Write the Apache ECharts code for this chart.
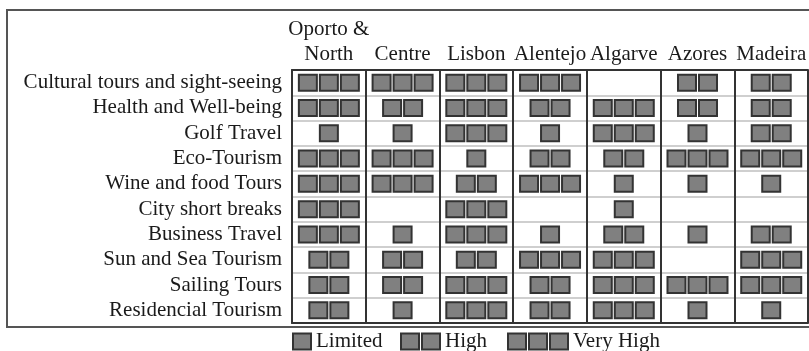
<!DOCTYPE html>
<html>
<head>
<meta charset="utf-8">
<script src="https://cdn.jsdelivr.net/npm/echarts@6/dist/echarts.min.js"></script>
<style>html,body{margin:0;padding:0;background:#fff}#chart{width:809px;height:351px}</style>
</head>
<body>
<div id="chart"></div>
<script>
// Regions (columns)
const regions = ['Oporto &\nNorth', 'Centre', 'Lisbon', 'Alentejo', 'Algarve', 'Azores', 'Madeira'];
// Tourism products (rows, top to bottom)
const products = [
  'Cultural tours and sight-seeing',
  'Health and Well-being',
  'Golf Travel',
  'Eco-Tourism',
  'Wine and food Tours',
  'City short breaks',
  'Business Travel',
  'Sun and Sea Tourism',
  'Sailing Tours',
  'Residencial Tourism'
];
// Level per region (0 = none, 1 = Limited, 2 = High, 3 = Very High), in product order
const oportoNorth = [3, 3, 1, 3, 3, 3, 3, 2, 2, 2];
const centre      = [3, 2, 1, 3, 3, 0, 1, 2, 2, 1];
const lisbon      = [3, 3, 3, 1, 2, 3, 3, 2, 3, 3];
const alentejo    = [3, 2, 1, 2, 3, 0, 1, 3, 2, 2];
const algarve     = [0, 3, 3, 2, 1, 1, 2, 3, 3, 3];
const azores      = [2, 2, 1, 3, 1, 0, 1, 0, 3, 1];
const madeira     = [2, 2, 2, 3, 1, 0, 2, 3, 3, 1];
const levelNames = ['Limited', 'High', 'Very High'];

const columns = [oportoNorth, centre, lisbon, alentejo, algarve, azores, madeira];

const FONT = "'Liberation Serif', 'Times New Roman', serif";
const BOX_W = 18, BOX_H = 16, PITCH = 21;

function dataForLevel(level) {
  const out = [];
  columns.forEach((col, ci) => {
    col.forEach((v, ri) => { if (v === level) out.push([ci, ri, v]); });
  });
  return out;
}

function renderItem(params, api) {
  const n = api.value(2);
  const c = api.coord([api.value(0), api.value(1)]);
  const children = [];
  const style = api.style();
  for (let i = 0; i < n; i++) {
    const cx = c[0] + (i - (n - 1) / 2) * PITCH;
    children.push({
      type: 'rect',
      shape: { x: cx - BOX_W / 2, y: c[1] - BOX_H / 2, width: BOX_W, height: BOX_H },
      style: { fill: '#808080', stroke: '#333', lineWidth: 2 }
    });
  }
  return { type: 'group', children };
}

function squaresPath(n) {
  let p = 'path://';
  for (let i = 0; i < n; i++) {
    p += 'M' + (i * 21) + ',0H' + (i * 21 + 18) + 'V16H' + (i * 21) + 'Z ';
  }
  return p.trim();
}

const legendLeft = [292, 400, 507];
const legendWidth = [18, 39, 60];

const chart = echarts.init(document.getElementById('chart'), null, { renderer: 'canvas' });
chart.setOption({
  animation: false,
  backgroundColor: '#fff',
  textStyle: { fontFamily: FONT },
  graphic: [{
    type: 'rect', z: -1,
    shape: { x: 7, y: 10, width: 830, height: 317 },
    style: { fill: 'none', stroke: '#555', lineWidth: 2 }
  }],
  grid: { left: 292, top: 70, width: 519, height: 253, containLabel: false },
  xAxis: [{
    type: 'category', position: 'top', data: regions,
    axisLine: { show: true, lineStyle: { color: '#333', width: 2 } },
    axisTick: { show: false },
    splitLine: { show: true, lineStyle: { color: '#333', width: 2 } },
    axisLabel: { fontFamily: FONT, fontSize: 21, color: '#1a1a1a', margin: 3, lineHeight: 25, interval: 0 }
  }, {
    type: 'category', position: 'bottom', data: regions,
    axisLine: { show: true, lineStyle: { color: '#333', width: 2 } },
    axisTick: { show: false }, axisLabel: { show: false }, splitLine: { show: false }
  }],
  yAxis: {
    type: 'category', inverse: true, data: products,
    axisLine: { show: true, lineStyle: { color: '#333', width: 2 } },
    axisTick: { show: false },
    splitLine: { show: true, lineStyle: { color: '#cfcfcf', width: 2 } },
    axisLabel: { fontFamily: FONT, fontSize: 21, color: '#1a1a1a', margin: 10, interval: 0 }
  },
  legend: levelNames.map((name, i) => ({
    data: [{ name, icon: squaresPath(i + 1) }],
    left: legendLeft[i], top: 331,
    itemWidth: legendWidth[i], itemHeight: 16,
    padding: 0,
    itemStyle: { color: '#808080', borderColor: '#333', borderWidth: 2 },
    textStyle: { fontFamily: FONT, fontSize: 21, color: '#1a1a1a', lineHeight: 20 },
    selectedMode: false
  })),
  series: levelNames.map((name, i) => ({
    type: 'custom', name,
    renderItem,
    itemStyle: { color: '#808080', borderColor: '#333', borderWidth: 2 },
    encode: { x: 0, y: 1 },
    data: dataForLevel(i + 1)
  }))
});
</script>
</body>
</html>
